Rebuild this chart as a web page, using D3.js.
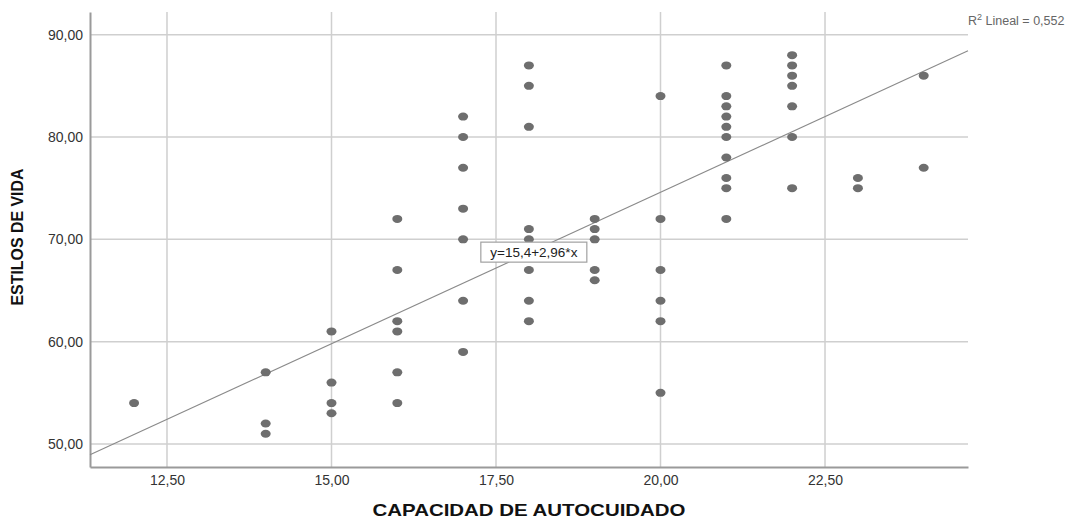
<!DOCTYPE html>
<html>
<head>
<meta charset="utf-8">
<script src="https://cdn.jsdelivr.net/npm/d3@7"></script>
<style>
  html, body { margin: 0; padding: 0; background: #fff; }
  svg { display: block; font-family: Arial, "Liberation Sans", sans-serif; }
</style>
</head>
<body>
<svg id="chart" width="1080" height="519"></svg>
<script>
// Data
const capacidad = [12,
  14, 14, 14,
  15, 15, 15, 15,
  16, 16, 16, 16, 16, 16,
  17, 17, 17, 17, 17, 17, 17,
  18, 18, 18, 18, 18, 18, 18, 18,
  19, 19, 19, 19, 19,
  20, 20, 20, 20, 20, 20,
  21, 21, 21, 21, 21, 21, 21, 21, 21, 21,
  22, 22, 22, 22, 22, 22, 22,
  23, 23,
  24, 24];
const estilos = [54,
  57, 52, 51,
  61, 56, 54, 53,
  72, 67, 62, 61, 57, 54,
  82, 80, 77, 73, 70, 64, 59,
  87, 85, 81, 71, 70, 67, 64, 62,
  72, 71, 70, 67, 66,
  84, 72, 67, 64, 62, 55,
  87, 84, 83, 82, 81, 80, 78, 76, 75, 72,
  88, 87, 86, 85, 83, 80, 75,
  76, 75,
  86, 77];
const xTicks = [12.5, 15, 17.5, 20, 22.5];
const yTicks = [50, 60, 70, 80, 90];
const intercept = 15.4;
const slope = 2.96;
const r2Label = "0,552";
const xTitle = "CAPACIDAD DE AUTOCUIDADO";
const yTitle = "ESTILOS DE VIDA";

const svg = d3.select("#chart");
const mLeft = 90, mRight = 968, mTop = 12, mBottom = 467;
const x = d3.scaleLinear().domain([11.33, 24.673]).range([mLeft, mRight]);
const y = d3.scaleLinear().domain([47.75, 92.22]).range([mBottom, mTop]);
const fmt = v => d3.format(".2f")(v).replace(".", ",");

// gridlines
svg.append("g").selectAll("line").data(xTicks).join("line")
  .attr("x1", d => x(d)).attr("x2", d => x(d))
  .attr("y1", mTop).attr("y2", mBottom)
  .attr("stroke", "#cfcfcf").attr("stroke-width", 1.5);
svg.append("g").selectAll("line").data(yTicks).join("line")
  .attr("x1", mLeft).attr("x2", mRight)
  .attr("y1", d => y(d)).attr("y2", d => y(d))
  .attr("stroke", "#cfcfcf").attr("stroke-width", 1.5);

// axes
const xAxis = svg.append("g").attr("transform", `translate(0,${mBottom})`)
  .call(d3.axisBottom(x).tickValues(xTicks).tickFormat(fmt).tickSize(0).tickPadding(8));
const yAxis = svg.append("g").attr("transform", `translate(${mLeft},0)`)
  .call(d3.axisLeft(y).tickValues(yTicks).tickFormat(fmt).tickSize(0).tickPadding(7));
[xAxis, yAxis].forEach(g => {
  g.select(".domain").attr("stroke", "#9a9a9a").attr("stroke-width", 2);
  g.selectAll("text").attr("font-size", 14).attr("fill", "#333")
    .attr("font-family", "Arial, 'Liberation Sans', sans-serif");
});

// regression line
const xd = x.domain();
svg.append("line")
  .attr("x1", x(xd[0])).attr("y1", y(intercept + slope * xd[0]))
  .attr("x2", x(xd[1])).attr("y2", y(intercept + slope * xd[1]))
  .attr("stroke", "#8a8a8a").attr("stroke-width", 1.1);

// points
svg.append("g").selectAll("ellipse").data(capacidad.map((c, i) => [c, estilos[i]])).join("ellipse")
  .attr("cx", d => x(d[0])).attr("cy", d => y(d[1]))
  .attr("rx", 5).attr("ry", 4)
  .attr("fill", "#6e6e6e");

// equation label
const eq = svg.append("g").attr("transform", `translate(${x(18.075)},${y(68.75)})`);
eq.append("rect").attr("x", -53).attr("y", -10).attr("width", 106).attr("height", 20)
  .attr("fill", "#fff").attr("stroke", "#a0a0a0").attr("stroke-width", 1.2);
eq.append("text").attr("text-anchor", "middle").attr("dy", "0.36em")
  .attr("font-size", 13.5).attr("fill", "#222")
  .text(`y=${String(intercept).replace(".", ",")}+${String(slope).replace(".", ",")}*x`);

// R2 label
const r2 = svg.append("text").attr("x", 968).attr("y", 25).attr("font-size", 12.5).attr("fill", "#666");
r2.append("tspan").text("R");
r2.append("tspan").attr("font-size", 9).attr("dy", -5).text("2");
r2.append("tspan").attr("dy", 5).text(` Lineal = ${r2Label}`);

// titles
svg.append("text").attr("x", 529).attr("y", 516).attr("text-anchor", "middle")
  .attr("font-size", 17).attr("font-weight", "bold").attr("fill", "#111")
  .attr("textLength", 313).attr("lengthAdjust", "spacingAndGlyphs")
  .text(xTitle);
svg.append("text").attr("transform", "translate(23,237) rotate(-90)").attr("text-anchor", "middle")
  .attr("font-size", 16).attr("font-weight", "bold").attr("fill", "#111")
  .attr("textLength", 137).attr("lengthAdjust", "spacingAndGlyphs")
  .text(yTitle);
</script>
</body>
</html>
